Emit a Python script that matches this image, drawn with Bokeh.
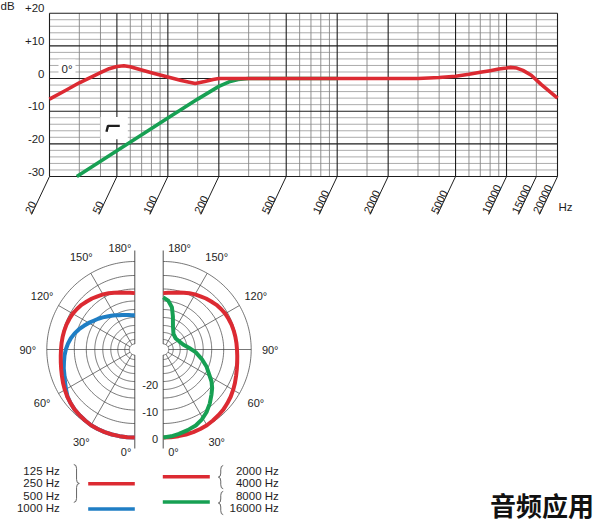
import numpy as np
from bokeh.plotting import figure
from bokeh.models import Range1d
from bokeh.layouts import column
from bokeh.embed import file_html
from bokeh.resources import INLINE
from bokeh.core.properties import value

# ------------------------------------------------------------------ data
grid_freqs = [20, 30, 40, 50, 60, 70, 80, 90, 100, 150, 200, 300, 400, 500, 600, 700,
              800, 900, 1000, 1500, 2000, 3000, 4000, 5000, 6000, 7000, 8000, 9000,
              10000, 15000, 20000]
major_freqs = [20, 50, 100, 200, 500, 1000, 2000, 5000, 10000, 20000]
tick_freqs = [20, 50, 100, 200, 500, 1000, 2000, 5000, 10000, 15000, 20000]
tick_labels = ["20", "50", "100", "200", "500", "1000", "2000", "5000", "10000",
               "15000", "20000"]
db_ticks = [20, 10, 0, -10, -20, -30]
db_tick_labels = ["+20", "+10", "0", "-10", "-20", "-30"]

# 0 degree frequency response (red)
resp_f = [20, 25, 30, 40, 45, 50, 55, 60, 70, 80, 100, 120, 145, 165, 185, 200, 300,
          500, 1000, 2000, 3000, 4000, 5000, 6000, 7000, 8000, 9000, 10000, 10500,
          11500, 12500, 14000, 16000, 18000, 20000]
resp_db = [-6.3, -3.6, -1.3, 1.8, 3.0, 3.7, 3.9, 3.6, 2.6, 1.8, 0.5, -0.6, -1.5, -0.9,
           -0.3, 0.0, 0.0, 0.0, 0.0, 0.0, 0.0, 0.3, 0.7, 1.3, 1.9, 2.4, 2.9, 3.2, 3.4,
           3.2, 2.5, 1.0, -1.8, -4.0, -6.0]
# bass-cut response (green)
lowcut_f = [29, 50, 100, 150, 200, 230, 260, 300, 500, 1000]
lowcut_db = [-30.0, -22.1, -12.1, -6.3, -2.4, -1.0, -0.3, 0.0, 0.0, 0.0]

# polar patterns (angle in degrees, level in dB)
polar_angles = [0, 5, 10, 15, 20, 25, 30, 35, 40, 45, 50, 55, 60, 65, 70, 75, 80, 85,
                90, 95, 100, 105, 110, 115, 120, 125, 130, 135, 140, 145, 150, 155,
                160, 165, 170, 175, 180]
polar_low_db = [0.0, 0.0, 0.0, 0.0, 0.0, -0.1, -0.2, -0.5, -0.8, -1.1, -1.6, -2.1, -2.7,
                -3.3, -3.9, -4.4, -4.8, -5.1, -5.3, -5.4, -5.5, -5.6, -5.7, -5.9, -6.1,
                -6.5, -6.9, -7.5, -8.0, -8.6, -9.1, -9.7, -10.3, -10.8, -11.3, -11.6,
                -11.8]                                                 # 125/250/500 Hz
polar_1k_db = [0.0, 0.0, 0.0, 0.0, 0.0, -0.1, -0.2, -0.5, -0.8, -1.1, -1.6, -2.2, -3.2,
               -4.1, -4.9, -5.4, -6.0, -6.5, -7.1, -7.8, -8.6, -9.6, -10.7, -11.9,
               -13.0, -14.1, -15.0, -15.9, -16.8, -17.5, -18.1, -18.7, -19.1, -19.5,
               -19.8, -20.0, -20.1]                                    # 1000 Hz
polar_2k4k_db = [0.0, 0.0, 0.0, 0.0, 0.0, -0.1, -0.2, -0.5, -0.8, -1.1, -1.6, -2.1, -2.7,
                 -3.3, -3.9, -4.4, -4.8, -5.1, -5.3, -5.4, -5.5, -5.6, -5.7, -5.9, -6.1,
                 -6.5, -6.9, -7.5, -8.0, -8.6, -9.1, -9.7, -10.3, -10.8, -11.3, -11.6,
                 -11.8]                                                # 2000/4000 Hz
polar_hi_angles = [0, 5.3, 10.6, 16.9, 23.2, 28.8, 34.6, 40.7, 47.0, 51.8, 56.5, 68.6,
                   76.1, 85.3, 93.3, 104.0, 118.7, 131.3, 146.4, 157.8, 163.6, 168.4,
                   174.2, 180]
polar_hi_db = [0.0, -0.3, -0.8, -1.4, -2.0, -3.0, -4.4, -6.2, -8.2, -9.6, -11.2, -15.5,
               -18.0, -20.7, -23.1, -25.2, -26.2, -26.6, -25.9, -23.2, -20.0, -16.7,
               -14.5, -13.4]                                           # 8000/16000 Hz
polar_angle_ticks = [0, 30, 60, 90, 120, 150, 180]
polar_angle_labels = ["0°", "30°", "60°", "90°", "120°", "150°", "180°"]
polar_db_ticks = [0, -10, -20]
polar_db_labels = ["0", "-10", "-20"]

legend_left = ["125 Hz", "250 Hz", "500 Hz", "1000 Hz"]
legend_right = ["2000 Hz", "4000 Hz", "8000 Hz", "16000 Hz"]
watermark = "音频应用"

# ------------------------------------------------------------------ style
FONT = "Liberation Sans"
RED = "#dc2a32"
GREEN = "#17a053"
BLUE = "#1f7ec4"
INK = "#1e1e1e"
W, H1, H2 = 615, 233, 297

# ------------------------------------------------------------------ frequency chart
GX0, GX1 = 49.0, 557.0      # pixel of 20 Hz and 20 kHz
GY0, GY1 = 12.7, 176.0      # pixel of +20 dB and -30 dB
F_LO, F_HI = 20.0, 20000.0
DB_LO, DB_HI = -30.0, 20.0
dec_px = (GX1 - GX0) / np.log10(F_HI / F_LO)
db_px = (GY1 - GY0) / (DB_HI - DB_LO)

p1 = figure(width=W, height=H1, x_axis_type="log",
            x_range=Range1d(F_LO / 10 ** (GX0 / dec_px), F_HI * 10 ** ((W - GX1) / dec_px)),
            y_range=Range1d(DB_LO - (H1 - GY1) / db_px, DB_HI + GY0 / db_px),
            x_axis_location=None, y_axis_location=None, output_backend="svg",
            toolbar_location=None, min_border=0, outline_line_color=None)
p1.grid.visible = False

minor_db = [d for d in range(-30, 21, 2) if d % 10 != 0]
major_db = list(range(-30, 21, 10))
minor_f = [f for f in grid_freqs if f not in major_freqs]
p1.segment(x0=F_LO, y0=minor_db, x1=F_HI, y1=minor_db, line_color="#a3a3a3", line_width=0.9)
p1.segment(x0=minor_f, y0=DB_LO, x1=minor_f, y1=DB_HI, line_color="#858585", line_width=0.9)
p1.segment(x0=F_LO, y0=major_db, x1=F_HI, y1=major_db, line_color=INK, line_width=1.1)
p1.segment(x0=major_freqs, y0=DB_LO, x1=major_freqs, y1=DB_HI, line_color=INK, line_width=1.1)

# high-pass symbol on a white patch
HP_BOX = dict(left=[40], right=[58], bottom=[-18.6], top=[-11.8])
HP_ICON_F = [43.4, 44.3, 52.0]
HP_ICON_DB = [-16.3, -14.5, -14.5]
p1.quad(**HP_BOX, fill_color="white", line_color=None)
p1.line(HP_ICON_F, HP_ICON_DB, line_color=INK, line_width=2.4)

p1.line(lowcut_f, lowcut_db, line_color=GREEN, line_width=3.6, line_join="round")
p1.line(resp_f, resp_db, line_color=RED, line_width=3.6, line_join="round")

txt = dict(text_font=value(FONT), text_color=INK)
p1.text(x=F_LO, y=db_ticks, text=db_tick_labels, x_offset=-5, y_offset=-1,
        text_align="right", text_baseline="bottom", text_font_size="11.5px", **txt)
p1.text(x=[p1.x_range.start], y=[DB_HI], text=["dB"], x_offset=0, y_offset=-1,
        text_align="left", text_baseline="bottom", text_font_size="11.5px", **txt)
p1.text(x=[F_LO], y=[0], text=["0°"], x_offset=9, y_offset=-10, text_align="left",
        text_baseline="middle", text_font_size="11.5px", background_fill_color="white",
        padding=3, **txt)

# slanted tick lines with rotated labels
TICK_DX, TICK_DY = 18.0, 38.0
k_tick = 10 ** (-TICK_DX / dec_px)
d_tick = TICK_DY / db_px
tick_end = [f * k_tick for f in tick_freqs]
p1.segment(x0=tick_freqs, y0=DB_LO, x1=tick_end, y1=DB_LO - d_tick, line_color=INK,
           line_width=1)
p1.text(x=tick_end, y=DB_LO - d_tick, text=tick_labels, angle=float(np.arctan2(TICK_DY, TICK_DX)),
        text_align="left", text_baseline="bottom", text_font_size="11px", **txt)
p1.text(x=[F_HI], y=[DB_LO], text=["Hz"], x_offset=1, y_offset=30, text_align="left",
        text_baseline="middle", text_font_size="11.5px", **txt)

# ------------------------------------------------------------------ polar diagrams
p2 = figure(width=W, height=H2, x_range=Range1d(0, W), y_range=Range1d(H2, 0),
            x_axis_location=None, y_axis_location=None, output_backend="svg",
            toolbar_location=None, min_border=0, outline_line_color=None)
p2.grid.visible = False

CXL, CXR, CY = 134.3, 162.7, 116.0
R0 = 88.0
R_DB = 2.68            # px per dB
HOLE = 5.5
RING_R = [88, 74, 60.5, 48.5, 40, 32, 24, 17, 10]
GRID_C = "#3c3c3c"


def pxy(cx, side, ang, r):
    a = np.radians(np.asarray(ang, float))
    r = np.asarray(r, float)
    return cx + side * r * np.sin(a), CY + r * np.cos(a)


def rad(db):
    return np.clip(R0 + R_DB * np.asarray(db, float), 0, None)


theta = np.linspace(0, 180, 121)
for side, cx in [(-1, CXL), (1, CXR)]:
    xs, ys = [], []
    for r in RING_R:
        x, y = pxy(cx, side, theta, r)
        xs.append(list(x))
        ys.append(list(y))
    hx, hy = pxy(cx, side, theta, HOLE)
    xs.append(list(hx))
    ys.append(list(hy))
    p2.multi_line(xs, ys, line_color=GRID_C, line_width=0.7)
    spokes = [30, 60, 90, 120, 150]
    x0, y0 = pxy(cx, side, spokes, HOLE)
    x1, y1 = pxy(cx, side, spokes, R0)
    p2.segment(x0=list(x0), y0=list(y0), x1=list(x1), y1=list(y1), line_color=GRID_C,
               line_width=0.7)
    p2.segment(x0=[cx, cx], y0=[CY - 99, CY + HOLE], x1=[cx, cx], y1=[CY - HOLE, CY + 99],
               line_color=GRID_C, line_width=0.9)

# curves
bx, by = pxy(CXL, -1, polar_angles, rad(polar_1k_db))
p2.line(list(bx), list(by), line_color=BLUE, line_width=4, line_join="round")
lx, ly = pxy(CXL, -1, polar_angles, rad(polar_low_db))
p2.line(list(lx), list(ly), line_color=RED, line_width=4, line_join="round")
rx, ry = pxy(CXR, 1, polar_angles, rad(polar_2k4k_db))
p2.line(list(rx), list(ry), line_color=RED, line_width=4, line_join="round")
gx, gy = pxy(CXR, 1, polar_hi_angles, rad(polar_hi_db))
p2.line(list(gx), list(gy), line_color=GREEN, line_width=4, line_join="round")

# angle labels
R_LAB = 107.0
mid = [i for i, a in enumerate(polar_angle_ticks) if 0 < a < 180]
mid_ang = [polar_angle_ticks[i] for i in mid]
mid_txt = [polar_angle_labels[i] for i in mid]
for side, cx in [(-1, CXL), (1, CXR)]:
    x, y = pxy(cx, side, mid_ang, R_LAB)
    p2.text(x=list(x), y=list(y), text=mid_txt, text_align="center", text_baseline="middle",
            text_font_size="11px", **txt)
    ends = [polar_angle_labels[0], polar_angle_labels[-1]]
    p2.text(x=[cx + (5 if side > 0 else -3.5)] * 2, y=[CY + 102.7, CY - 102.0], text=ends,
            text_align="left" if side > 0 else "right", text_baseline="middle",
            text_font_size="11px", **txt)

# dB scale labels
p2.text(x=CXR - 5, y=list(CY + rad(polar_db_ticks)), text=polar_db_labels, y_offset=1,
        text_align="right", text_baseline="middle", text_font_size="11px", **txt)

# ------------------------------------------------------------------ legend
ROW0, ROWSTEP = 237.0, 12.6
rows = [ROW0 + i * ROWSTEP for i in range(4)]
p2.text(x=59.3, y=rows, text=legend_left, text_align="right", text_baseline="middle",
        text_font_size="11.5px", **txt)
p2.text(x=278.3, y=rows, text=legend_right, text_align="right", text_baseline="middle",
        text_font_size="11.5px", **txt)

p2.segment(x0=[87.7], y0=[rows[1] + 0.6], x1=[134.3], y1=[rows[1] + 0.6], line_color=RED, line_width=3.5)
p2.segment(x0=[87.7], y0=[rows[3] + 0.6], x1=[134.3], y1=[rows[3] + 0.6], line_color=BLUE, line_width=3.5)
p2.segment(x0=[162.3], y0=[(rows[0] + rows[1]) / 2], x1=[209.3], y1=[(rows[0] + rows[1]) / 2],
           line_color=RED, line_width=3.5)
p2.segment(x0=[162.3], y0=[(rows[2] + rows[3]) / 2], x1=[209.3], y1=[(rows[2] + rows[3]) / 2],
           line_color=GREEN, line_width=3.5)


def brace(p, x_base, x_tip, y0, y1):
    xm = (x_base + x_tip) / 2
    ym = (y0 + y1) / 2
    q = min(4.0, (y1 - y0) / 4)
    p.quadratic(x0=[x_base, xm, x_tip, xm], y0=[y0, ym - q, ym, y1 - q],
                x1=[xm, x_tip, xm, x_base], y1=[y0 + q, ym, ym + q, y1],
                cx=[xm, xm, xm, xm], cy=[y0, ym, ym, y1], line_color="#555", line_width=0.9)
    p.segment(x0=[xm, xm], y0=[y0 + q, ym + q], x1=[xm, xm], y1=[ym - q, y1 - q],
              line_color="#555", line_width=0.9)


brace(p2, 73.3, 78.8, rows[0] - 6, rows[2] + 6.7)
brace(p2, 222.7, 217.8, rows[0] - 5, rows[1] + 5.6)
brace(p2, 222.7, 217.8, rows[2] - 4.3, rows[3] + 6.3)

p2.text(x=[541.5], y=[271], text=[watermark], text_align="center", text_baseline="middle",
        text_font=value("Noto Sans CJK SC"), text_font_style="bold", text_font_size="26px",
        text_color="#111")

layout = column(p1, p2)
open("out.html", "w").write(file_html(layout, INLINE))
